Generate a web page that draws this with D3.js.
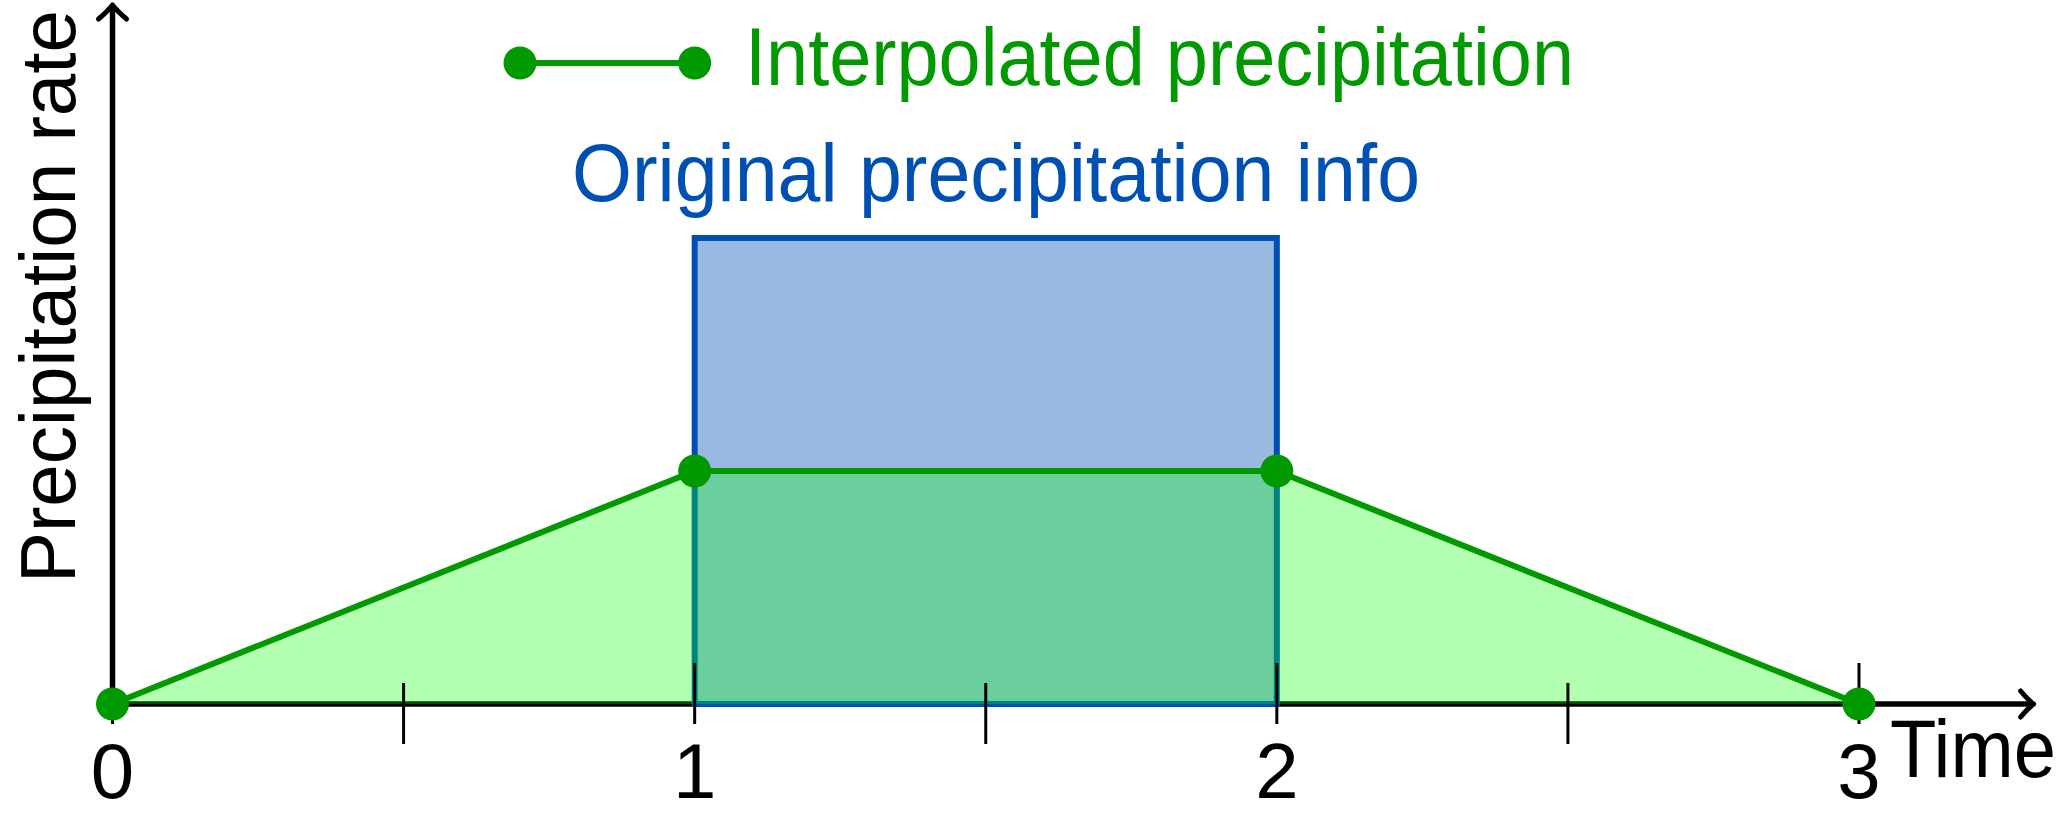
<!DOCTYPE html>
<html>
<head>
<meta charset="utf-8">
<script src="https://cdn.jsdelivr.net/npm/d3@7/dist/d3.min.js"></script>
<style>
  html, body { margin: 0; padding: 0; background: #fff; }
  svg { display: block; }
</style>
</head>
<body>
<svg id="chart" width="2067" height="816"></svg>
<script>
// ---- data ----
const majorTicks = [0, 1, 2, 3];
const tickLabels = ["0", "1", "2", "3"];
const halfTicks = [0.5, 1.5, 2.5];
const interpTime = [0, 1, 2, 3];
const interpRate = [0, 1, 1, 0];
const originalStart = 1;
const originalEnd = 2;
const originalRate = 2;
const xAxisMax = 3.3;
const yAxisMax = 3;

const GREEN = "#009900";
const BLUE = "#0050b4";
const FONT = "'Liberation Sans', Arial, sans-serif";

const svg = d3.select("#chart");
const x = d3.scaleLinear().domain([0, 3]).range([112.5, 1859]);
const y = d3.scaleLinear().domain([0, 3]).range([704, 5]);

// axes lines
svg.append("line")
  .attr("x1", x(0)).attr("x2", x(xAxisMax) - 2)
  .attr("y1", y(0)).attr("y2", y(0))
  .attr("stroke", "#000").attr("stroke-width", 5.5);
svg.append("line")
  .attr("x1", x(0)).attr("x2", x(0))
  .attr("y1", y(0)).attr("y2", y(yAxisMax) + 2)
  .attr("stroke", "#000").attr("stroke-width", 5.5);

// arrow heads
const ax = x(xAxisMax), ay = y(0);
svg.append("path")
  .attr("d", `M${ax-13},${ay-13} C${ax-8},${ay-7} ${ax-4},${ay-3} ${ax},${ay} C${ax-4},${ay+3} ${ax-8},${ay+7} ${ax-13},${ay+13}`)
  .attr("fill", "none").attr("stroke", "#000").attr("stroke-width", 5)
  .attr("stroke-linecap", "round").attr("stroke-linejoin", "round");
const bx = x(0), by = y(yAxisMax);
svg.append("path")
  .attr("d", `M${bx-14},${by+14} C${bx-7},${by+8} ${bx-3},${by+4} ${bx},${by} C${bx+3},${by+4} ${bx+7},${by+8} ${bx+14},${by+14}`)
  .attr("fill", "none").attr("stroke", "#000").attr("stroke-width", 5)
  .attr("stroke-linecap", "round").attr("stroke-linejoin", "round");

// original rectangle
svg.append("rect")
  .attr("x", x(originalStart)).attr("y", y(originalRate))
  .attr("width", x(originalEnd) - x(originalStart))
  .attr("height", y(0) - y(originalRate))
  .attr("fill", BLUE).attr("fill-opacity", 0.4)
  .attr("stroke", BLUE).attr("stroke-width", 6);

// interpolated area
const pts = interpTime.map((t, i) => [t, interpRate[i]]);
const area = d3.area().x(d => x(d[0])).y0(y(0)).y1(d => y(d[1]));
svg.append("path").datum(pts)
  .attr("d", area)
  .attr("fill", "#00ff00").attr("fill-opacity", 0.3);

// ticks
svg.selectAll(".major").data(majorTicks).enter().append("line")
  .attr("x1", d => x(d)).attr("x2", d => x(d))
  .attr("y1", y(0) - 41).attr("y2", y(0) + 20)
  .attr("stroke", "#000").attr("stroke-width", 3);
svg.selectAll(".half").data(halfTicks).enter().append("line")
  .attr("x1", d => x(d)).attr("x2", d => x(d))
  .attr("y1", y(0) - 21).attr("y2", y(0) + 40)
  .attr("stroke", "#000").attr("stroke-width", 3);

// interpolated line + dots
const line = d3.line().x(d => x(d[0])).y(d => y(d[1]));
svg.append("path").datum(pts)
  .attr("d", line)
  .attr("fill", "none").attr("stroke", GREEN).attr("stroke-width", 6)
  .attr("stroke-linejoin", "round");
svg.selectAll(".dot").data(pts).enter().append("circle")
  .attr("cx", d => x(d[0])).attr("cy", d => y(d[1])).attr("r", 16.5)
  .attr("fill", GREEN);

// tick labels
svg.selectAll(".tl").data(majorTicks).enter().append("text")
  .attr("x", d => x(d)).attr("y", 798)
  .attr("text-anchor", "middle")
  .attr("font-family", FONT).attr("font-size", 78)
  .attr("fill", "#000")
  .text((d, i) => tickLabels[i]);

// axis titles
svg.append("text")
  .attr("x", 1890).attr("y", 777)
  .attr("font-family", FONT).attr("font-size", 81)
  .attr("textLength", 166).attr("lengthAdjust", "spacingAndGlyphs")
  .attr("fill", "#000").text("Time");
svg.append("text")
  .attr("transform", "translate(75,583) rotate(-90)")
  .attr("font-family", FONT).attr("font-size", 78)
  .attr("textLength", 573).attr("lengthAdjust", "spacingAndGlyphs")
  .attr("fill", "#000").text("Precipitation rate");

// legend
svg.append("line")
  .attr("x1", 520).attr("x2", x(1)).attr("y1", 63).attr("y2", 63)
  .attr("stroke", GREEN).attr("stroke-width", 6);
svg.selectAll(".ld").data([520, x(1)]).enter().append("circle")
  .attr("cx", d => d).attr("cy", 63).attr("r", 16.5).attr("fill", GREEN);
svg.append("text")
  .attr("x", 745).attr("y", 85)
  .attr("font-family", FONT).attr("font-size", 81)
  .attr("textLength", 829).attr("lengthAdjust", "spacingAndGlyphs")
  .attr("fill", GREEN).text("Interpolated precipitation");
svg.append("text")
  .attr("x", 572).attr("y", 201)
  .attr("font-family", FONT).attr("font-size", 81)
  .attr("textLength", 848).attr("lengthAdjust", "spacingAndGlyphs")
  .attr("fill", BLUE).text("Original precipitation info");
</script>
</body>
</html>
